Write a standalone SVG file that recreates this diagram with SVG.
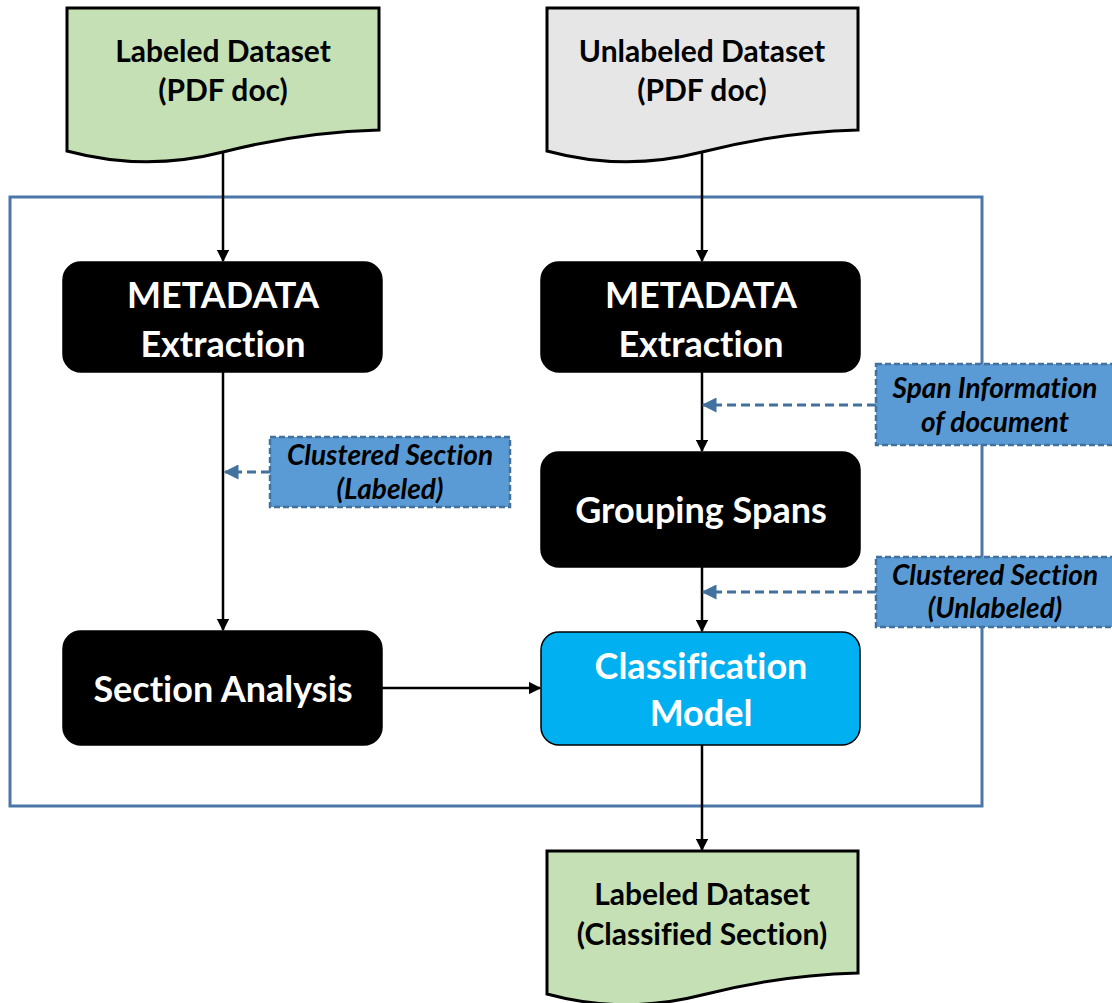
<svg xmlns="http://www.w3.org/2000/svg" width="1112" height="1003" viewBox="0 0 1112 1003">
  <defs>
    <marker id="arrow" viewBox="0 0 10 10" refX="9" refY="5" markerWidth="5" markerHeight="5" orient="auto" markerUnits="strokeWidth">
      <path d="M0,0 L10,5 L0,10 z" fill="#000"/>
    </marker>
    <marker id="arrow-blue" viewBox="0 0 10 10" refX="9" refY="5" markerWidth="5" markerHeight="5" orient="auto" markerUnits="strokeWidth">
      <path d="M0,0 L10,5 L0,10 z" fill="#41719C"/>
    </marker>
    <style>
      text { font-variant-ligatures: none; }
      .doc-green { fill: #C5E0B4; stroke: #000; stroke-width: 3; }
      .doc-grey { fill: #E7E6E6; stroke: #000; stroke-width: 3; }
      .doc-text { font-family: Lato, "Open Sans", sans-serif; font-weight: bold; font-size: 30px; fill: #000; text-anchor: middle; }
      .proc { fill: #000; stroke: #000; stroke-width: 1.5; }
      .proc-blue { fill: #00B0F0; stroke: #000; stroke-width: 1.5; }
      .proc-text { font-family: Lato, "Open Sans", sans-serif; font-weight: bold; font-size: 36px; fill: #fff; text-anchor: middle; }
      .note { fill: #5B9BD5; stroke: #41719C; stroke-width: 2.5; stroke-dasharray: 6 3; }
      .note-text { font-family: Lato, "Open Sans", sans-serif; font-weight: bold; font-style: italic; font-size: 28px; fill: #000; text-anchor: middle; }
      .frame { fill: none; stroke: #4A76A8; stroke-width: 3; }
      .flow { fill: none; stroke: #000; stroke-width: 2.5; marker-end: url(#arrow); }
      .flow-dash { fill: none; stroke: #41719C; stroke-width: 3; stroke-dasharray: 9 5; marker-end: url(#arrow-blue); }
    </style>
  </defs>

  <rect class="frame" x="10" y="197" width="972" height="609"/>

  <g id="connectors">
    <line class="flow" x1="223" y1="152" x2="223" y2="261"/>
    <line class="flow" x1="702" y1="152" x2="702" y2="261"/>
    <line class="flow" x1="223" y1="372" x2="223" y2="630"/>
    <line class="flow" x1="702" y1="372" x2="702" y2="451"/>
    <line class="flow" x1="702" y1="567" x2="702" y2="631"/>
    <line class="flow" x1="382" y1="688" x2="540" y2="688"/>
    <line class="flow" x1="702" y1="745" x2="702" y2="850"/>
    <line class="flow-dash" x1="270" y1="472" x2="225" y2="472"/>
    <line class="flow-dash" x1="876" y1="405" x2="703" y2="405"/>
    <line class="flow-dash" x1="876" y1="592" x2="703" y2="592"/>
  </g>

  <g id="labeled-input">
    <path class="doc-green" d="M67,8 H379 V130 Q301,132 223,152 Q145,172 67,151 Z"/>
    <text class="doc-text" x="223" y="62">Labeled Dataset</text>
    <text class="doc-text" x="223" y="101">(PDF doc)</text>
  </g>

  <g id="unlabeled-input">
    <path class="doc-grey" d="M547,8 H858 V130 Q780,132 702,152 Q624,172 547,151 Z"/>
    <text class="doc-text" x="702" y="62">Unlabeled Dataset</text>
    <text class="doc-text" x="702" y="101">(PDF doc)</text>
  </g>

  <g id="metadata-left">
    <rect class="proc" x="63" y="262" width="319" height="110" rx="18"/>
    <text class="proc-text" x="223" y="308">METADATA</text>
    <text class="proc-text" x="223" y="357">Extraction</text>
  </g>

  <g id="metadata-right">
    <rect class="proc" x="541" y="262" width="319" height="110" rx="18"/>
    <text class="proc-text" x="701" y="308">METADATA</text>
    <text class="proc-text" x="701" y="357">Extraction</text>
  </g>

  <g id="grouping-spans">
    <rect class="proc" x="541" y="452" width="319" height="115" rx="18"/>
    <text class="proc-text" x="701" y="523">Grouping Spans</text>
  </g>

  <g id="section-analysis">
    <rect class="proc" x="63" y="631" width="319" height="114" rx="18"/>
    <text class="proc-text" x="223" y="702">Section Analysis</text>
  </g>

  <g id="classification-model">
    <rect class="proc-blue" x="541" y="632" width="319" height="113" rx="18"/>
    <text class="proc-text" x="701" y="679">Classification</text>
    <text class="proc-text" x="701" y="726">Model</text>
  </g>

  <g id="clustered-labeled">
    <rect class="note" x="270" y="437" width="240" height="70"/>
    <text class="note-text" x="390" y="465">Clustered Section</text>
    <text class="note-text" x="390" y="499">(Labeled)</text>
  </g>

  <g id="span-information">
    <rect class="note" x="876" y="364" width="240" height="81"/>
    <text class="note-text" x="995" y="398">Span Information</text>
    <text class="note-text" x="995" y="432">of document</text>
  </g>

  <g id="clustered-unlabeled">
    <rect class="note" x="876" y="557" width="240" height="70"/>
    <text class="note-text" x="995" y="585">Clustered Section</text>
    <text class="note-text" x="995" y="618">(Unlabeled)</text>
  </g>

  <g id="labeled-output">
    <path class="doc-green" d="M547,851 H858 V973 Q780,975 702,995 Q624,1015 547,994 Z"/>
    <text class="doc-text" x="702" y="905">Labeled Dataset</text>
    <text class="doc-text" x="702" y="945">(Classified Section)</text>
  </g>
</svg>
